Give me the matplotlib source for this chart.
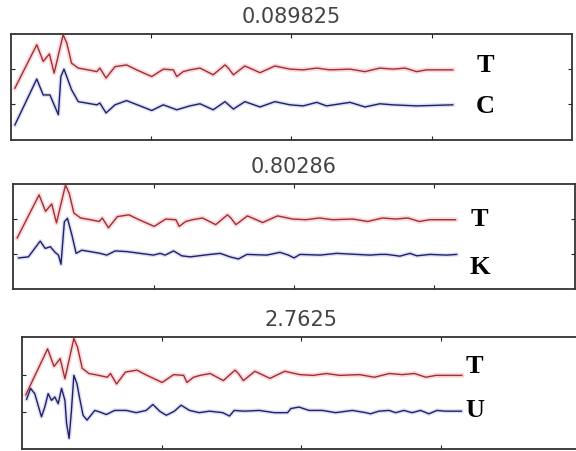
import matplotlib
matplotlib.use("Agg")
import matplotlib.pyplot as plt

# shared T curve (x in 0..200 scale, y in 0..3)
t_x = [1.4, 9.2, 11.5, 13.7, 15.4, 18.6, 19.9, 21.6, 24.0, 27.5, 30.6, 31.7, 33.9,
       37.1, 41.2, 44.8, 50.2, 54.3, 57.9, 59.1, 61.4, 63.8, 67.4, 72.1, 76.3,
       77.5, 79.3, 83.4, 88.8, 94.1, 99.5, 104.2, 109.0, 113.7, 120.9, 126.2,
       131.5, 136.2, 140.5, 144.6, 148.2, 157.5]
t_y = [1.46, 2.69, 2.22, 2.43, 1.89, 2.97, 2.74, 2.17, 2.03, 1.98, 1.93, 2.03, 1.75,
       2.07, 2.12, 1.98, 1.79, 2.00, 1.98, 1.79, 1.93, 1.98, 2.03, 1.84, 2.12,
       2.03, 1.84, 2.09, 1.90, 2.09, 2.00, 1.98, 2.03, 1.98, 2.00, 1.93,
       2.03, 2.00, 2.03, 1.93, 1.98, 1.98]

c_x = [1.4, 9.2, 11.5, 13.9, 16.9, 17.8, 18.9, 21.6, 24.0, 30.6, 31.7, 33.9, 37.1,
       41.2, 50.2, 54.3, 59.1, 63.8, 67.4, 72.1, 76.3, 79.3, 83.4, 88.8, 94.1,
       99.5, 104.2, 109.0, 112.5, 120.9, 126.2, 131.5, 136.2, 144.6, 157.5]
c_y = [0.42, 1.72, 1.27, 1.27, 0.71, 1.79, 2.00, 1.42, 1.08, 0.99, 1.04, 0.76, 0.99,
       1.11, 0.83, 0.99, 0.85, 0.96, 1.02, 0.85, 1.08, 0.87, 1.08, 0.93, 1.08,
       0.99, 0.96, 1.06, 0.96, 1.06, 0.93, 1.02, 0.99, 0.96, 0.99]

k_x = [1.9, 5.4, 9.6, 11.4, 13.2, 14.9, 16.1, 17.0, 18.2, 19.3, 20.9, 22.4, 24.4,
       27.4, 31.0, 33.3, 36.3, 40.5, 45.2, 49.9, 52.3, 54.1, 57.1, 60.0, 63.0,
       70.1, 73.7, 77.2, 80.2, 83.2, 90.3, 95.0, 98.0, 100.0, 102.1, 109.3,
       115.2, 122.3, 127.1, 130.6, 133.0, 137.7, 141.3, 143.7, 148.4, 154.3, 157.9]
k_y = [0.89, 0.92, 1.37, 1.16, 1.21, 1.05, 0.97, 0.71, 1.92, 2.02, 1.54, 1.02, 1.11,
       1.07, 1.02, 0.97, 1.09, 1.07, 1.02, 0.97, 1.02, 0.97, 1.09, 0.95, 0.92,
       0.99, 1.02, 0.92, 0.86, 0.99, 0.97, 1.05, 0.97, 0.89, 0.99, 0.97,
       1.02, 0.99, 0.97, 0.99, 0.99, 0.94, 1.02, 0.95, 0.99, 0.97, 0.99]

u_x = [1.7, 3.1, 4.6, 5.8, 7.0, 8.2, 9.4, 10.6, 11.8, 13.0, 14.2, 15.4, 16.0, 16.9,
       17.7, 18.6, 19.7, 20.7, 21.9, 23.3, 26.1, 27.8, 30.2, 33.2, 37.4, 40.9,
       44.5, 46.9, 49.3, 51.7, 54.6, 57.0, 60.0, 63.5, 67.1, 71.9, 74.3, 76.0,
       79.6, 85.0, 90.3, 95.1, 96.3, 99.2, 102.8, 107.6, 112.3, 118.3, 123.1,
       124.8, 127.8, 131.4, 133.8, 136.7, 139.7, 142.7, 145.7, 148.6, 151.6, 157.3]
u_y = [1.34, 1.63, 1.49, 1.18, 0.87, 1.13, 1.49, 1.31, 1.40, 1.22, 1.63, 1.31, 0.69,
       0.29, 1.00, 1.98, 1.76, 1.36, 0.91, 0.78, 1.04, 1.00, 0.93, 1.04, 1.04, 0.98,
       1.04, 1.20, 1.02, 0.91, 1.02, 1.18, 1.04, 0.98, 1.02, 0.98, 0.89, 1.04,
       1.02, 1.04, 0.98, 0.98, 1.09, 1.13, 1.04, 1.04, 0.98, 1.04, 0.98,
       0.95, 1.02, 1.04, 0.98, 1.04, 0.98, 1.04, 0.95, 1.04, 1.02, 1.02]

titles = ["0.089825", "0.80286", "2.7625"]
labels = [("T", "C"), ("T", "K"), ("T", "U")]
others = [(c_x, c_y), (k_x, k_y), (u_x, u_y)]

# axes rectangles in figure fractions
rects = [[0.019, 0.690, 0.974, 0.235],
         [0.023, 0.359, 0.975, 0.233],
         [0.038, 0.004, 0.970, 0.248]]
label_pos = [(169, 2.09, 0.93), (166, 2.0, 0.63), (162, 2.22, 1.04)]

red = "#9e2f35"
blue = "#1f2168"

fig = plt.figure(figsize=(5.76, 4.51), dpi=100)
for i in range(3):
    ax = fig.add_axes(rects[i])
    ox, oy = others[i]
    # soft halo like the blurry original
    ax.plot(t_x, t_y, color="#f0a0a8", lw=3.5, alpha=0.4)
    ax.plot(ox, oy, color="#9090d8", lw=3.0, alpha=0.3)
    ax.plot(t_x, t_y, color=red, lw=1.0)
    ax.plot(ox, oy, color=blue, lw=1.0)
    ax.set_xlim(0, 200)
    ax.set_ylim(0, 3)
    ax.set_xticks([50, 100, 150])
    ax.set_yticks([1, 2])
    ax.tick_params(direction="in", top=True, right=True, length=3,
                   labelbottom=False, labelleft=False, color="#222")
    for s in ax.spines.values():
        s.set_color("#333333")
        s.set_linewidth(1.3)
    ax.set_title(titles[i], fontsize=15, color="#444444", pad=8)
    lx, ty, oy2 = label_pos[i]
    ax.text(lx, ty, labels[i][0], fontsize=19, fontweight="bold",
            family="Liberation Serif", ha="center", va="center")
    ax.text(lx, oy2, labels[i][1], fontsize=19, fontweight="bold",
            family="Liberation Serif", ha="center", va="center")

fig.savefig("out.png", dpi=100)
